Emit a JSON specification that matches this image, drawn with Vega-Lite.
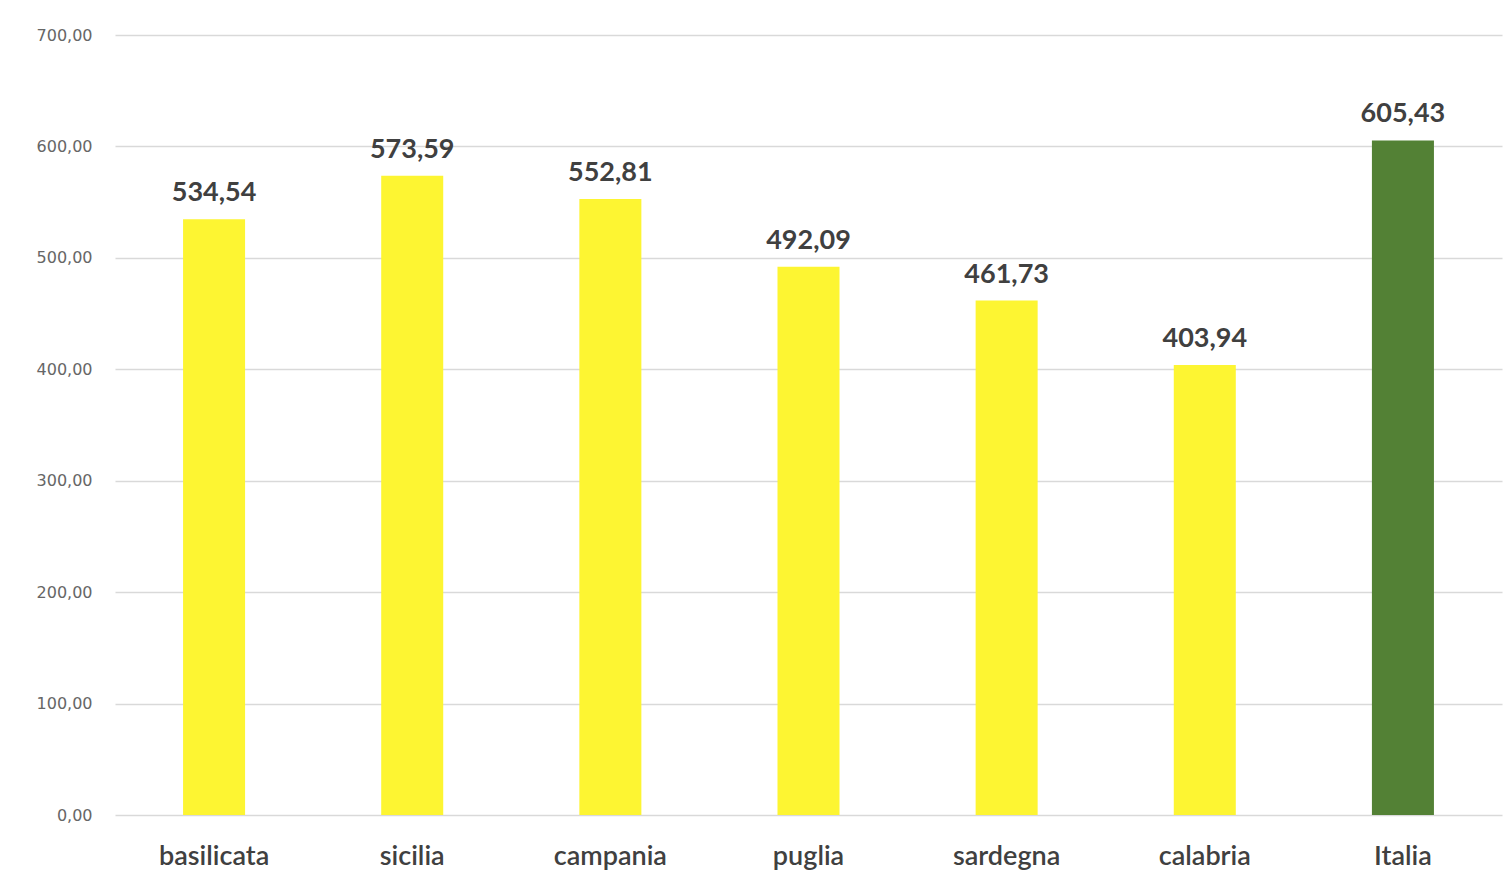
{
  "$schema": "https://vega.github.io/schema/vega-lite/v6.json",
  "width": 1387,
  "height": 780,
  "autosize": {"type": "none"},
  "padding": {"left": 115, "top": 35, "right": 6, "bottom": 75},
  "background": "#ffffff",
  "config": {
    "locale": {"number": {"decimal": ",", "thousands": ".", "grouping": [3], "currency": ["€", ""]}},
    "view": {"stroke": null},
    "font": "Lato"
  },
  "data": {
    "values": [
      {"regione": "basilicata", "valore": 534.54, "gruppo": "regione"},
      {"regione": "sicilia", "valore": 573.59, "gruppo": "regione"},
      {"regione": "campania", "valore": 552.81, "gruppo": "regione"},
      {"regione": "puglia", "valore": 492.09, "gruppo": "regione"},
      {"regione": "sardegna", "valore": 461.73, "gruppo": "regione"},
      {"regione": "calabria", "valore": 403.94, "gruppo": "regione"},
      {"regione": "Italia", "valore": 605.43, "gruppo": "italia"}
    ]
  },
  "encoding": {
    "x": {
      "field": "regione", "type": "nominal", "sort": null,
      "scale": {"paddingInner": 0.687, "paddingOuter": 0.3435},
      "axis": {
        "title": null, "labelAngle": 0, "domain": false, "ticks": false,
        "labelFont": "Lato", "labelFontSize": 27, "labelFontWeight": 600,
        "labelColor": "#404040", "labelPadding": 28
      }
    },
    "y": {
      "field": "valore", "type": "quantitative",
      "scale": {"domain": [0, 700], "nice": false},
      "axis": {
        "title": null, "values": [0, 100, 200, 300, 400, 500, 600, 700],
        "format": ",.2f", "domain": false, "ticks": false,
        "gridColor": "#D9D9D9", "gridWidth": 1.5,
        "labelFont": "DejaVu Sans", "labelFontSize": 16, "labelColor": "#666666",
        "labelPadding": 23
      }
    }
  },
  "layer": [
    {
      "mark": {"type": "bar"},
      "encoding": {
        "color": {
          "field": "gruppo", "type": "nominal",
          "scale": {"domain": ["regione", "italia"], "range": ["#FDF532", "#538135"]},
          "legend": null
        }
      }
    },
    {
      "mark": {"type": "text", "baseline": "bottom", "dy": -12, "fontSize": 27, "fontWeight": "bold", "color": "#404040", "font": "Lato"},
      "encoding": {
        "text": {"field": "valore", "type": "quantitative", "format": ",.2f"}
      }
    }
  ]
}
